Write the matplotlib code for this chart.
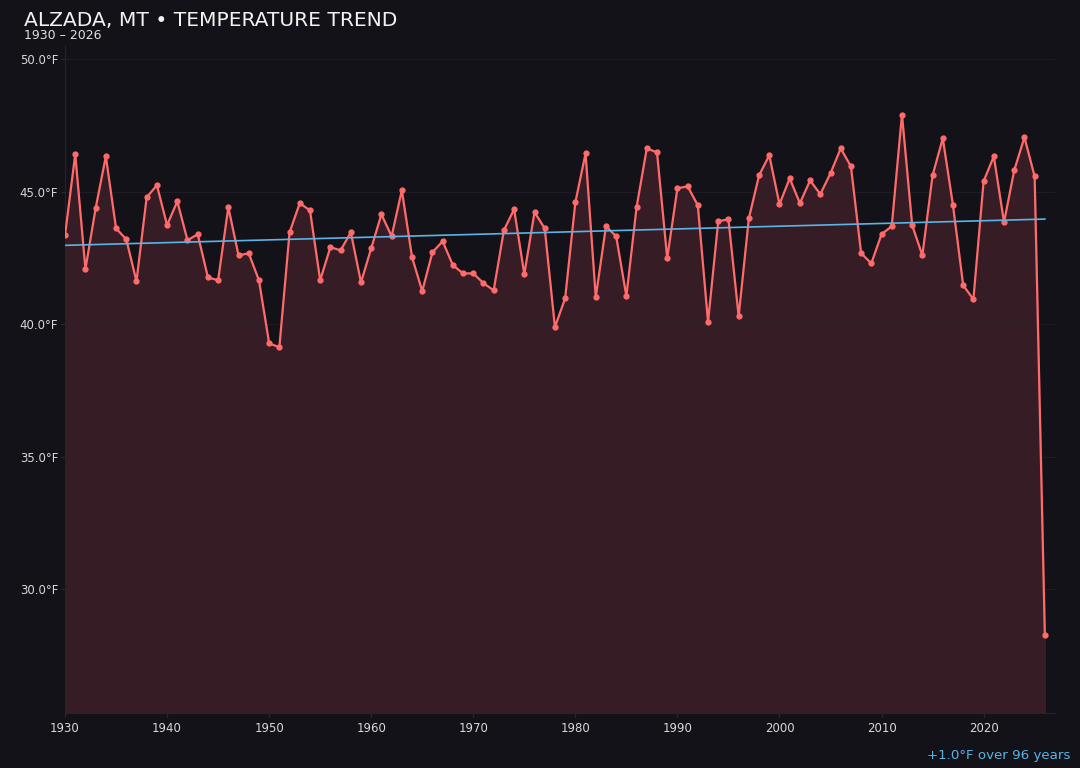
import numpy as np
import matplotlib
matplotlib.use("Agg")
import matplotlib.pyplot as plt

years = list(range(1930, 2027))
temps = [
    43.36, 46.42, 42.08, 44.38, 46.34, 43.62, 43.21, 41.62, 44.79, 45.25,  # 1930s
    43.74, 44.64, 43.17, 43.40, 41.77, 41.66, 44.42, 42.60, 42.68, 41.66,  # 1940s
    39.28, 39.13, 43.47, 44.57, 44.30, 41.66, 42.91, 42.79, 43.47, 41.58,  # 1950s
    42.87, 44.15, 43.32, 45.06, 42.53, 41.25, 42.72, 43.13, 42.23, 41.92,  # 1960s
    41.92, 41.55, 41.28, 43.55, 44.34, 41.89, 44.23, 43.62, 39.89, 40.98,  # 1970s
    44.60, 46.45, 41.02, 43.70, 43.32, 41.06, 44.42, 46.64, 46.49, 42.49,  # 1980s
    45.13, 45.21, 44.49, 40.08, 43.89, 43.96, 40.30, 44.00, 45.62, 46.38,  # 1990s
    44.53, 45.51, 44.57, 45.43, 44.91, 45.70, 46.64, 45.96, 42.68, 42.30,  # 2000s
    43.40, 43.70, 47.92, 43.74, 42.60, 45.62, 47.02, 44.49, 41.47, 40.94,  # 2010s
    45.40, 46.34, 43.85, 45.81, 47.06, 45.58, 28.26,                       # 2020s
]
x_ticks = [1930, 1940, 1950, 1960, 1970, 1980, 1990, 2000, 2010, 2020]
y_ticks = [30, 35, 40, 45, 50]

bg = "#131218"
line_col = "#ff6b6b"
trend_col = "#5ab4e6"

x = np.array(years)
y = np.array(temps)
slope, icpt = np.polyfit(x, y, 1)
trend = slope * x + icpt

fig = plt.figure(figsize=(10.8, 7.68), dpi=100, facecolor=bg)
ax = fig.add_axes([0.0602, 0.0716, 0.9167, 0.870])
ax.set_facecolor(bg)

ylo, yhi = 25.32, 50.55
ax.fill_between(x, y, ylo, color="#3a1f27", alpha=0.9, zorder=1)
ax.plot(x, y, color=line_col, lw=1.6, marker="o", ms=3.5, zorder=3)
ax.plot(x, trend, color=trend_col, lw=1.2, zorder=4)

ax.set_xlim(1930, 2027)
ax.set_ylim(ylo, yhi)
ax.set_xticks(x_ticks)
ax.set_yticks(y_ticks)
ax.set_yticklabels([f"{v:.1f}°F" for v in y_ticks])
ax.grid(axis="y", color="#2a2630", lw=0.6, alpha=0.6)
ax.tick_params(colors="#2a2a33", labelcolor="#d8d8d8", labelsize=8.5, length=3)
ax.tick_params(axis="y", pad=2)
for s in ["top", "right"]:
    ax.spines[s].set_visible(False)
for s in ["left", "bottom"]:
    ax.spines[s].set_color("#25242c")

fig.text(0.022, 0.973, "ALZADA, MT • TEMPERATURE TREND", color="#f2f2f2",
         fontsize=14.6, va="center", ha="left")
fig.text(0.022, 0.954, "1930 – 2026", color="#e0e0e0", fontsize=9,
         va="center", ha="left")
fig.text(0.991, 0.016, f"{slope * 96:+.1f}°F over 96 years", color=trend_col,
         fontsize=9.6, ha="right", va="center")

fig.savefig("out.png", dpi=100, facecolor=bg)
